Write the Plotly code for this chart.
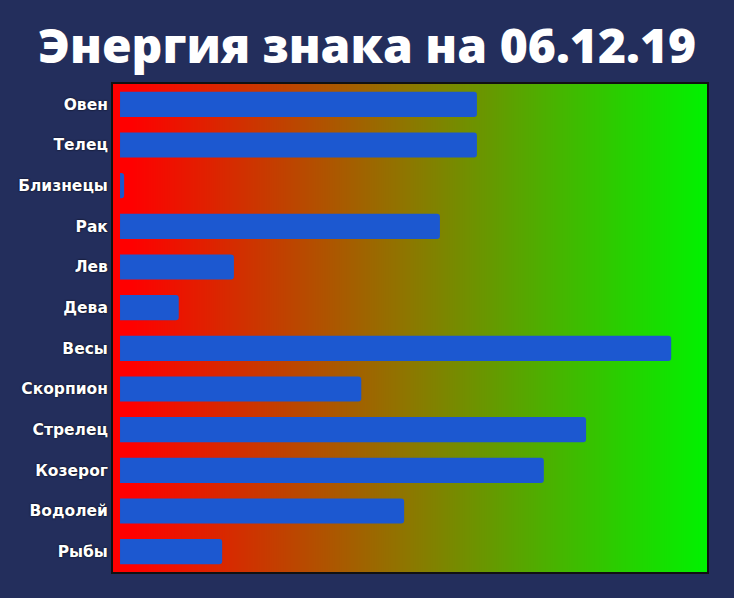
import numpy as np
import plotly.graph_objects as go

signs = ["Овен", "Телец", "Близнецы", "Рак", "Лев", "Дева", "Весы",
         "Скорпион", "Стрелец", "Козерог", "Водолей", "Рыбы"]
energy = [60.8, 60.8, 0.7, 54.5, 19.4, 10.0, 93.9, 41.1, 79.4, 72.2, 48.4, 17.4]
title_text = "Энергия знака на 06.12.19"

# background gradient (red -> green) drawn as a smooth heatmap
grad = np.linspace(0, 1, 200)

fig = go.Figure()
fig.add_trace(go.Heatmap(
    z=[grad, grad], x=grad, y=[0, 1], xaxis="x", yaxis="y",
    colorscale=[[0, "#ff0000"], [0.03, "#ff0000"], [0.5, "#8c7800"], [1, "#00f200"]],
    showscale=False, zsmooth="best", hoverinfo="skip"))
fig.add_trace(go.Bar(
    x=energy, y=signs, orientation="h", xaxis="x2", yaxis="y2",
    marker=dict(color="#1c58d0", line=dict(width=0)), width=0.62))

fig.update_layout(
    width=734, height=598,
    margin=dict(l=113, r=27, t=84, b=26),
    paper_bgcolor="#232e5c",
    plot_bgcolor="#232e5c",
    showlegend=False,
    barcornerradius=3,
    title=dict(text=title_text, x=0.5, xanchor="center", y=0.923, yanchor="middle",
               font=dict(family="Open Sans", size=48, color="white", weight=800)),
    xaxis=dict(range=[0, 1], visible=False, fixedrange=True),
    yaxis=dict(range=[0, 1], visible=False, fixedrange=True),
    xaxis2=dict(overlaying="x", range=[-1.2, 100], visible=True, showticklabels=False,
                showgrid=False, zeroline=False, ticks="",
                showline=True, mirror=True, linecolor="#111111", linewidth=2),
    yaxis2=dict(overlaying="y", autorange="reversed", categoryorder="array",
                categoryarray=signs, showgrid=False, zeroline=False, ticks="",
                showline=True, mirror=True, linecolor="#111111", linewidth=2,
                tickfont=dict(family="DejaVu Sans", size=15.5, color="white",
                              weight="bold", shadow="0px 0px 2px #000000"),
                ticklabelstandoff=0),
)

fig.write_html("out.html", config={"displayModeBar": False},
               post_script="document.body.style.margin='0';")
